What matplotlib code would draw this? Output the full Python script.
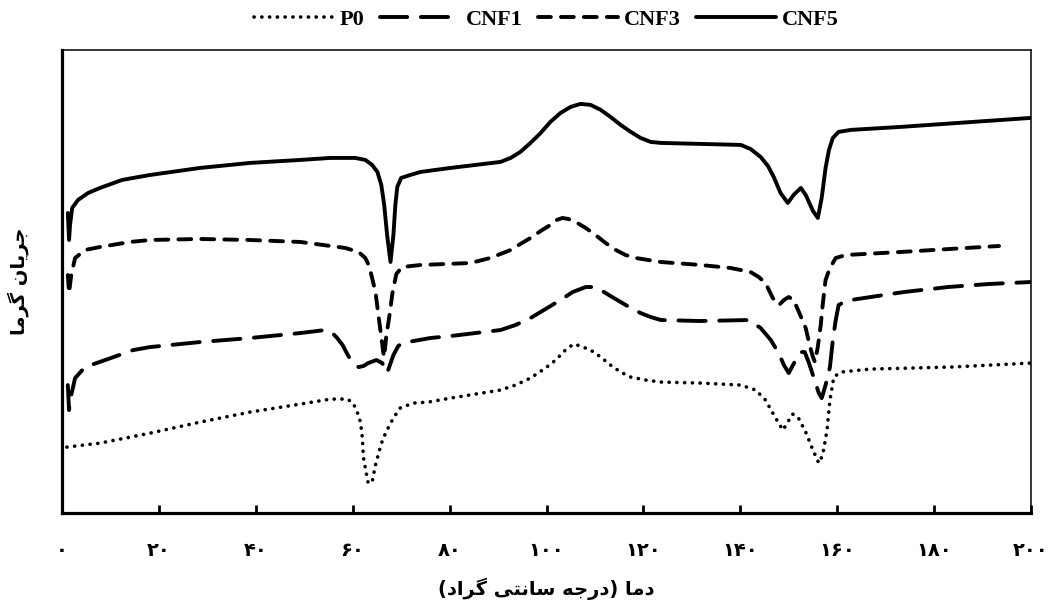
import matplotlib
matplotlib.use("Agg")
import matplotlib.pyplot as plt

# --- data (temperature in C, heat flow in arbitrary units) ---
p0_t = [1.0, 7.85, 18.2, 28.5, 38.8, 49.2, 55.4, 58.9, 60.1, 61.0, 61.6, 62.0, 62.2, 62.8,
        63.2, 64.0, 64.7, 65.7, 66.3, 67.8, 68.8, 69.8, 72.5, 75.6, 80.2, 90.5, 93.6, 96.7,
        99.8, 101.9, 103.9, 105.6, 107.0, 109.1, 111.2, 113.2, 115.3, 117.4, 120.5, 123.6,
        131.8, 140.1, 143.2, 145.2, 147.3, 148.8, 149.8, 150.8, 151.9, 153.5, 155.0,
        156.2, 157.0, 157.9, 158.5, 159.3, 160.7, 166.9, 183.5, 200.0]
p0_y = [66, 70, 80, 91, 101, 109, 114, 114, 110, 100, 91, 75, 56, 40,
        30, 31, 48, 66, 75, 90, 98, 105, 110, 111, 115, 123, 128, 135,
        145, 153, 163, 169, 167, 163, 156, 148, 141, 136, 133, 131,
        130, 128, 123, 113, 95, 83, 91, 99, 96, 81, 63,
        50, 58, 83, 113, 136, 141, 144, 146, 150]

cnf1_t = [1.2, 1.45, 1.9, 2.7, 4.75, 8.9, 14.7, 18.2, 28.5, 38.8, 49.2, 54.3, 55.8, 56.8,
          57.9, 59.1, 60.1, 61.2, 62.2, 63.2, 64.9, 66.1, 67.1, 68.4, 69.4, 70.2, 76.0,
          80.2, 90.5, 93.6, 96.7, 99.8, 102.9, 105.4, 108.1, 109.7, 111.2, 113.2, 115.3,
          117.4, 119.4, 121.5, 123.6, 131.8, 141.7, 144.2, 146.3, 147.9, 149.0, 150.0,
          151.2, 152.5, 153.3, 154.1, 155.2, 156.2, 156.8, 157.6, 158.5, 159.1, 159.7,
          160.3, 161.8, 162.8, 173.8, 182.9, 191.3, 200.0]
cnf1_y = [128, 103, 118, 135, 146, 153, 163, 166, 171, 175, 180, 183, 180, 175,
          168, 157, 150, 146, 147, 150, 153, 150, 140, 158, 167, 170, 175,
          177, 183, 188, 195, 204, 213, 221, 226, 226, 223, 217, 211,
          205, 200, 196, 193, 192, 193, 185, 173, 160, 148, 140,
          151, 161, 161, 151, 135, 120, 115, 128, 146, 173, 193,
          208, 212, 213, 221, 226, 229, 231]

cnf3_t = [1.2, 1.45, 1.9, 2.7, 4.75, 7.85, 14.0, 18.2, 28.5, 38.8, 49.2, 55.4, 58.5, 61.2,
          62.6, 63.4, 64.0, 64.7, 65.3, 65.9, 66.3, 66.5, 66.9, 67.6, 68.2, 69.0, 70.2,
          74.0, 84.3, 88.4, 92.6, 94.6, 96.7, 98.8, 100.8, 102.1, 103.3, 104.5, 106.0,
          108.1, 110.1, 112.2, 114.3, 116.3, 118.4, 123.6, 131.8, 138.0, 142.1, 143.8,
          145.2, 146.7, 148.0, 149.0, 150.0, 151.0, 152.1, 153.5, 154.3, 155.0, 155.4,
          156.0, 156.6, 157.0, 157.6, 158.5, 159.7, 161.8, 173.1, 193.4]
cnf3_y = [238, 220, 238, 255, 263, 266, 271, 273, 274, 273, 271, 267, 265, 261,
          255, 247, 235, 221, 198, 176, 161, 156, 176, 198, 220, 239, 246,
          248, 250, 255, 263, 269, 275, 282, 288, 293, 295, 294, 291,
          285, 278, 270, 263, 258, 255, 251, 248, 245, 241, 236,
          230, 215, 208, 213, 216, 213, 201, 185, 168, 156, 151,
          166, 188, 208, 233, 245, 255, 258, 261, 267]

cnf5_t = [1.2, 1.45, 1.65, 2.1, 3.3, 5.4, 7.85, 12.4, 18.2, 28.5, 38.8, 49.2, 55.4, 60.5,
          62.6, 64.0, 65.1, 65.9, 66.5, 67.1, 67.8, 68.4, 68.8, 69.2, 70.0, 71.9, 74.0,
          80.2, 90.5, 92.6, 94.6, 96.7, 98.8, 100.8, 102.9, 105.0, 107.0, 109.1, 111.2,
          113.2, 115.3, 117.4, 119.4, 121.5, 123.6, 131.8, 140.1, 142.1, 144.2, 145.7,
          146.9, 148.3, 149.8, 151.0, 152.5, 153.5, 155.0, 156.0, 156.8, 157.6, 158.3,
          159.1, 160.3, 162.8, 173.1, 200.0]
cnf5_y = [300, 273, 288, 305, 313, 320, 325, 333, 338, 345, 350, 353, 355, 355,
          353, 348, 341, 328, 308, 278, 251, 278, 308, 326, 335, 338, 341,
          345, 351, 355, 361, 370, 380, 391, 400, 406, 409, 408, 403,
          396, 388, 381, 375, 371, 370, 369, 368, 364, 356, 347,
          336, 320, 310, 318, 325, 318, 302, 295, 315, 345, 363,
          375, 381, 383, 386, 395]

xticks = [0, 20, 40, 60, 80, 100, 120, 140, 160, 180, 200]
xtick_labels = ["\u06f0", "\u06f2\u06f0", "\u06f4\u06f0", "\u06f6\u06f0", "\u06f8\u06f0",
                "\u06f1\u06f0\u06f0", "\u06f1\u06f2\u06f0", "\u06f1\u06f4\u06f0",
                "\u06f1\u06f6\u06f0", "\u06f1\u06f8\u06f0", "\u06f2\u06f0\u06f0"]

# Persian labels, already shaped and in visual (left-to-right) order
ylabel_fa = "\uFE8E\uFEE3\uFEAE\uFB94 \uFEE5\uFE8E\uFEF3\uFEAE\uFE9F"           # جریان گرما
xlabel_fa = ("(\uFEA9\uFE8D\uFEAE\uFB94 \uFEF0\uFE98\uFEE7\uFE8E\uFEB3 "
             "\uFEEA\uFE9F\uFEAD\uFEA9) \uFE8E\uFEE3\uFEA9")                    # دما (درجه سانتی گراد)

fig = plt.figure(figsize=(10.53, 6.08), dpi=100)
ax = fig.add_axes([0.0589, 0.156, 0.9202, 0.762])

lw = 2.8
ax.plot(p0_t, p0_y, color="black", lw=2.6, linestyle=(0, (0.05, 2.1)),
        dash_capstyle="round", label="P0")
ax.plot(cnf1_t, cnf1_y, color="black", lw=lw, linestyle=(0, (7, 3.5)),
        dash_capstyle="round", label="CNF1")
ax.plot(cnf3_t, cnf3_y, color="black", lw=lw, linestyle=(0, (3.3, 2.6)),
        dash_capstyle="round", label="CNF3")
ax.plot(cnf5_t, cnf5_y, color="black", lw=lw, solid_capstyle="round",
        solid_joinstyle="round", label="CNF5")

ax.set_xlim(0, 200)
ax.set_ylim(0, 463)
ax.set_xticks(xticks)
ax.set_xticklabels(xtick_labels, fontsize=14, fontweight="bold", family="DejaVu Sans")
ax.set_yticks([])
ax.tick_params(axis="x", direction="in", length=6, width=2, pad=20)

for side in ["left", "bottom"]:
    ax.spines[side].set_linewidth(2.3)
for side in ["top", "right"]:
    ax.spines[side].set_linewidth(1.1)

ax.set_ylabel(ylabel_fa, fontsize=14, fontweight="bold", family="DejaVu Sans", labelpad=24)
ax.set_xlabel(xlabel_fa, fontsize=14, fontweight="bold", family="DejaVu Sans", labelpad=13)

leg = ax.legend(loc="lower center", bbox_to_anchor=(0.5, 1.015), ncol=4, frameon=False,
                handlelength=3.6, handletextpad=0.25, columnspacing=0.7,
                prop={"family": "Liberation Serif", "weight": "bold", "size": 16},
                borderaxespad=0.2)

fig.savefig("out.png", dpi=100)
